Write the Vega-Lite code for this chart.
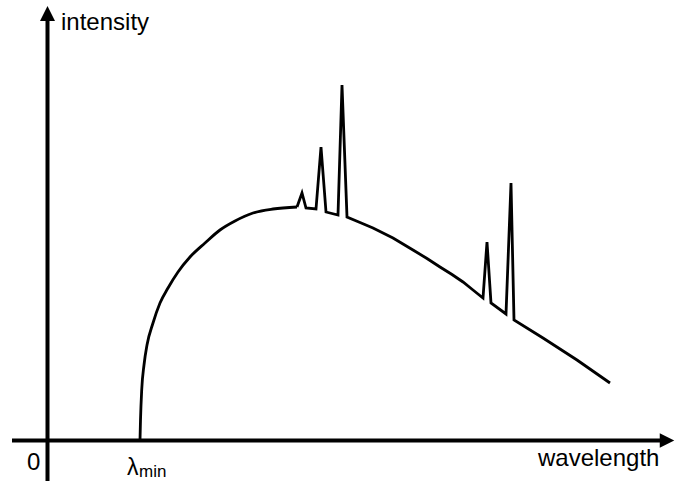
{
  "$schema": "https://vega.github.io/schema/vega-lite/v6.json",
  "width": 675,
  "height": 484,
  "autosize": {"type": "fit", "contains": "padding"},
  "padding": 0,
  "background": "white",
  "config": {"view": {"stroke": null}},
  "datasets": {
    "rise": [
      {"wavelength": 93, "intensity": 0},
      {"wavelength": 93.5, "intensity": 20},
      {"wavelength": 94.7, "intensity": 50},
      {"wavelength": 97, "intensity": 75},
      {"wavelength": 100, "intensity": 95},
      {"wavelength": 106, "intensity": 117},
      {"wavelength": 113, "intensity": 137},
      {"wavelength": 121, "intensity": 152},
      {"wavelength": 131, "intensity": 168},
      {"wavelength": 143, "intensity": 183},
      {"wavelength": 158, "intensity": 197},
      {"wavelength": 173, "intensity": 210},
      {"wavelength": 188, "intensity": 219},
      {"wavelength": 206, "intensity": 227},
      {"wavelength": 226, "intensity": 231},
      {"wavelength": 250, "intensity": 233}
    ],
    "spectrum": [
      {"wavelength": 250, "intensity": 233},
      {"wavelength": 255, "intensity": 247},
      {"wavelength": 259, "intensity": 232},
      {"wavelength": 269, "intensity": 231},
      {"wavelength": 274, "intensity": 293},
      {"wavelength": 279, "intensity": 228},
      {"wavelength": 291, "intensity": 225},
      {"wavelength": 295, "intensity": 355},
      {"wavelength": 300, "intensity": 223},
      {"wavelength": 313, "intensity": 217.5},
      {"wavelength": 326, "intensity": 212},
      {"wavelength": 346, "intensity": 202},
      {"wavelength": 366, "intensity": 190},
      {"wavelength": 380, "intensity": 181.5},
      {"wavelength": 393, "intensity": 173},
      {"wavelength": 405, "intensity": 165.5},
      {"wavelength": 416, "intensity": 158},
      {"wavelength": 426, "intensity": 150},
      {"wavelength": 436, "intensity": 142},
      {"wavelength": 440, "intensity": 198},
      {"wavelength": 444, "intensity": 137},
      {"wavelength": 459, "intensity": 126},
      {"wavelength": 464, "intensity": 257},
      {"wavelength": 467, "intensity": 120},
      {"wavelength": 496, "intensity": 102},
      {"wavelength": 530, "intensity": 80},
      {"wavelength": 563, "intensity": 57}
    ],
    "axes": [
      {"axis": "x", "x": -35, "x2": 616, "y": -0.5, "y2": -0.5},
      {"axis": "y", "x": 0.5, "x2": 0.5, "y": -41, "y2": 427}
    ],
    "arrows": [
      {"axis": "x", "x": 620, "y": -0.5},
      {"axis": "y", "x": 0.5, "y": 426.5}
    ],
    "labels": [
      {"label": "intensity", "x": 14, "y": 410},
      {"label": "wavelength", "x": 491, "y": -26},
      {"label": "0", "x": -20, "y": -30}
    ],
    "lambda": [
      {"label": "λ", "x": 80, "y": -35}
    ],
    "sublabels": [
      {"label": "min", "x": 92, "y": -37}
    ]
  },
  "encoding": {
    "x": {"type": "quantitative", "scale": {"domain": [-47, 628], "nice": false, "zero": false}, "axis": null},
    "y": {"type": "quantitative", "scale": {"domain": [-44, 440], "nice": false, "zero": false}, "axis": null}
  },
  "layer": [
    {
      "data": {"name": "axes"},
      "mark": {"type": "rule", "color": "black", "strokeWidth": 4},
      "encoding": {
        "x": {"field": "x", "type": "quantitative"},
        "x2": {"field": "x2"},
        "y": {"field": "y", "type": "quantitative"},
        "y2": {"field": "y2"}
      }
    },
    {
      "data": {"name": "arrows"},
      "transform": [{"filter": "datum.axis === 'x'"}],
      "mark": {"type": "point", "shape": "M1,0L-1,-1L-1,1Z", "filled": true, "color": "black", "size": 210, "opacity": 1},
      "encoding": {
        "x": {"field": "x", "type": "quantitative"},
        "y": {"field": "y", "type": "quantitative"}
      }
    },
    {
      "data": {"name": "arrows"},
      "transform": [{"filter": "datum.axis === 'y'"}],
      "mark": {"type": "point", "shape": "M0,-1L1,1L-1,1Z", "filled": true, "color": "black", "size": 225, "opacity": 1},
      "encoding": {
        "x": {"field": "x", "type": "quantitative"},
        "y": {"field": "y", "type": "quantitative"}
      }
    },
    {
      "data": {"name": "rise"},
      "mark": {"type": "line", "color": "black", "strokeWidth": 2.8, "interpolate": "monotone"},
      "encoding": {
        "x": {"field": "wavelength", "type": "quantitative"},
        "y": {"field": "intensity", "type": "quantitative"}
      }
    },
    {
      "data": {"name": "spectrum"},
      "mark": {"type": "line", "color": "black", "strokeWidth": 2.8, "strokeJoin": "miter", "strokeMiterLimit": 10},
      "encoding": {
        "x": {"field": "wavelength", "type": "quantitative"},
        "y": {"field": "intensity", "type": "quantitative"}
      }
    },
    {
      "data": {"name": "labels"},
      "mark": {"type": "text", "align": "left", "baseline": "alphabetic", "font": "Liberation Sans", "fontSize": 24, "color": "black"},
      "encoding": {
        "x": {"field": "x", "type": "quantitative"},
        "y": {"field": "y", "type": "quantitative"},
        "text": {"field": "label"}
      }
    },
    {
      "data": {"name": "lambda"},
      "mark": {"type": "text", "align": "left", "baseline": "alphabetic", "font": "Liberation Sans", "fontSize": 23, "color": "black"},
      "encoding": {
        "x": {"field": "x", "type": "quantitative"},
        "y": {"field": "y", "type": "quantitative"},
        "text": {"field": "label"}
      }
    },
    {
      "data": {"name": "sublabels"},
      "mark": {"type": "text", "align": "left", "baseline": "alphabetic", "font": "Liberation Sans", "fontSize": 17, "color": "black"},
      "encoding": {
        "x": {"field": "x", "type": "quantitative"},
        "y": {"field": "y", "type": "quantitative"},
        "text": {"field": "label"}
      }
    }
  ]
}
